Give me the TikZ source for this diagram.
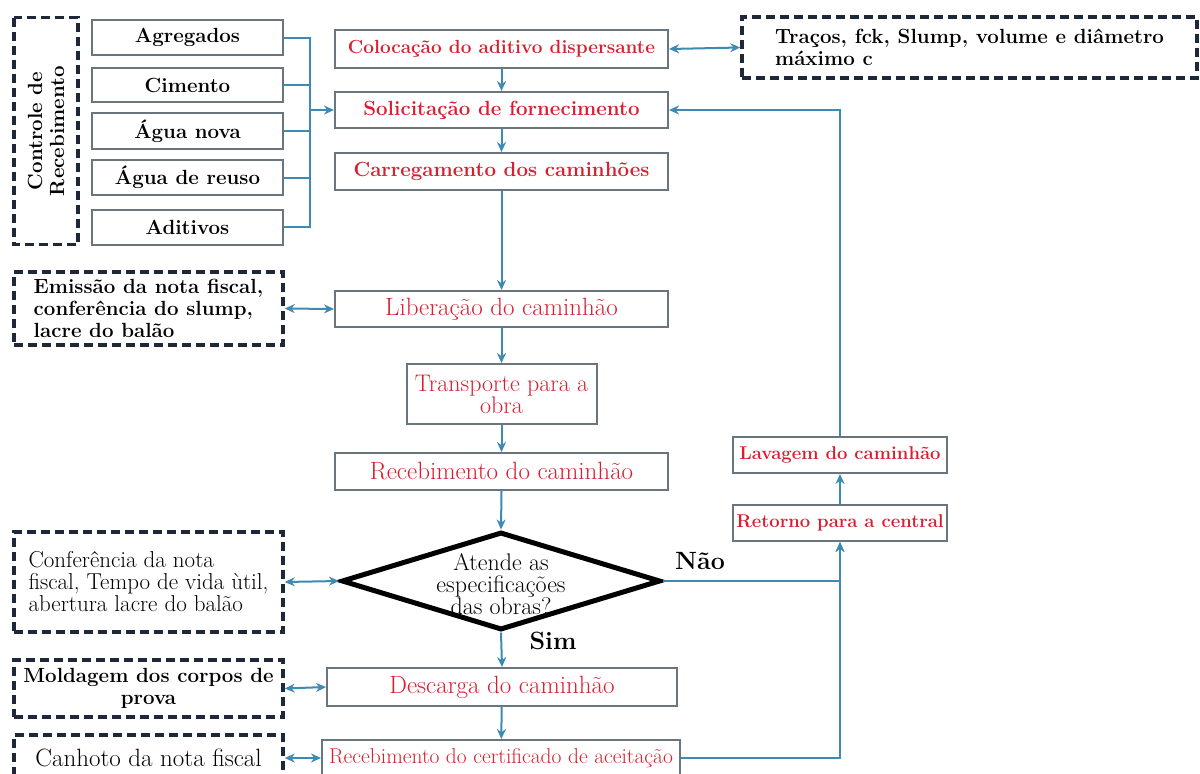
\documentclass[tikz,border=0pt]{standalone}
\usepackage{fontspec}
\usetikzlibrary{shapes.geometric,arrows.meta}
\definecolor{linec}{RGB}{62,138,178}
\definecolor{boxc}{RGB}{105,118,128}
\definecolor{redt}{RGB}{214,32,48}
\definecolor{dashc}{RGB}{30,40,56}
\tikzset{
  bfnt/.style={font=\fontsize{20.5}{22}\selectfont\bfseries},
  rfnt/.style={font=\fontsize{25}{22}\selectfont},
  box/.style={draw=boxc, line width=2pt, fill=white, inner sep=0pt, text=redt, align=center},
  inbox/.style={box, text=black, bfnt, minimum width=191pt},
  dbox/.style={draw=dashc, line width=3.5pt, dash pattern=on 9pt off 5pt, fill=white, inner sep=0pt, text=black},
  conn/.style={draw=linec, line width=2pt},
  arr/.style={conn, -{Stealth[length=10pt,width=9pt]}},
  darr/.style={conn, {Stealth[length=10pt,width=9pt]}-{Stealth[length=10pt,width=9pt]}},
  lbl/.style={font=\fontsize{25}{24}\selectfont\bfseries, text=black, inner sep=0pt}
}
\begin{document}
\begin{tikzpicture}[x=1pt,y=-1pt]
\useasboundingbox[fill=white] (0,0) rectangle (1200,774);

% left receiving control
\node[dbox, bfnt, rotate=90, minimum width=227pt, minimum height=64pt, align=center] (ctrl) at (46,131) {Controle de\\Recebimento};
\node[inbox, minimum height=35pt] (agr) at (187.5,37.5) {Agregados};
\node[inbox, minimum height=34pt] (cim) at (187.5,85) {Cimento};
\node[inbox, minimum height=36pt] (agn) at (187.5,131) {Água nova};
\node[inbox, minimum height=35pt] (agu) at (187.5,177.5) {Água de reuso};
\node[inbox, minimum height=35pt] (adi) at (187.5,227) {Aditivos};
\coordinate (bus) at (310,110);

% main column
\node[box, font=\fontsize{19}{22}\selectfont\bfseries, minimum width=333pt, minimum height=38pt] (col) at (501.5,49) {Colocação do aditivo dispersante};
\node[box, bfnt, minimum width=333pt, minimum height=36pt] (sol) at (501.5,110) {Solicitação de fornecimento};
\node[box, bfnt, minimum width=333pt, minimum height=37pt] (car) at (501.5,171.5) {Carregamento dos caminhões};
\node[box, rfnt, minimum width=333pt, minimum height=36pt] (lib) at (501.5,309) {Liberação do caminhão};
\node[box, font=\fontsize{24}{22}\selectfont, minimum width=190pt, minimum height=60pt] (tra) at (501.5,394) {Transporte para a\\obra};
\node[box, rfnt, minimum width=333pt, minimum height=37pt] (rec) at (501.5,471.5) {Recebimento do caminhão};
\node[diamond, draw=black, line width=5pt, minimum width=319pt, minimum height=98pt, inner sep=0pt] (dia) at (501,581) {};
\node[font=\fontsize{24}{22}\selectfont, align=center, inner sep=0pt] (diat) at (501,584) {Atende as\\especificações\\das obras?};
\node[box, rfnt, minimum width=350pt, minimum height=38pt] (desc) at (502,687) {Descarga do caminhão};
\node[box, font=\fontsize{21.5}{22}\selectfont, minimum width=358pt, minimum height=36pt] (rcert) at (501,758) {Recebimento do certificado de aceitação};

% right side
\node[box, font=\fontsize{18.5}{22}\selectfont\bfseries, minimum width=214pt, minimum height=36pt] (ret) at (840,523) {Retorno para a central};
\node[box, font=\fontsize{18.5}{22}\selectfont\bfseries, minimum width=214pt, minimum height=36pt] (lav) at (840,455) {Lavagem do caminhão};
\node[dbox, bfnt, minimum width=455pt, minimum height=61pt, align=left] (trc) at (969.5,47.5) {Traços, fck, Slump, volume e diâmetro\\máximo c};

% left dashed notes
\node[dbox, bfnt, minimum width=269pt, minimum height=73pt, align=left] (emi) at (148.5,308.5) {Emissão da nota fiscal,\\conferência do slump,\\lacre do balão};
\node[dbox, font=\fontsize{23}{22}\selectfont, minimum width=269pt, minimum height=100pt, align=left] (conf) at (148.5,582) {Conferência da nota\\fiscal, Tempo de vida ùtil,\\abertura lacre do balão};
\node[dbox, bfnt, minimum width=269pt, minimum height=57pt, align=center] (mol) at (148.5,688.5) {Moldagem dos corpos de\\prova};
\node[dbox, rfnt, minimum width=269pt, minimum height=46pt, align=center] (can) at (148.5,758) {Canhoto da nota fiscal};

% labels
\node[lbl] (nao) at (700,561) {Não};
\node[lbl] (sim) at (553,641) {Sim};

% connectors
\foreach \n in {agr,cim,agn,agu,adi} \draw[conn] (\n.east) -| (bus);
\draw[arr] (bus) -- (sol.west);
\draw[arr] (col) -- (sol);
\draw[arr] (sol) -- (car);
\draw[arr] (car) -- (lib);
\draw[arr] (lib) -- (tra);
\draw[arr] (tra) -- (rec);
\draw[arr] (rec.south) -- (dia.north);
\draw[arr] (dia.south) -- (desc.north);
\draw[arr] (desc) -- (rcert);
\draw[darr] (col.east) -- (trc.west);
\draw[darr] (emi.east) -- (lib.west);
\draw[darr] (conf.east) -- (dia.west);
\draw[darr] (mol.east) -- (desc.west);
\draw[darr] (can.east) -- (rcert.west);
\draw[arr] (dia.east) -| (ret.south);
\draw[arr] (rcert.east) -| (ret.south);
\draw[arr] (ret) -- (lav);
\draw[arr] (lav.north) |- (sol.east);
\end{tikzpicture}
\end{document}
